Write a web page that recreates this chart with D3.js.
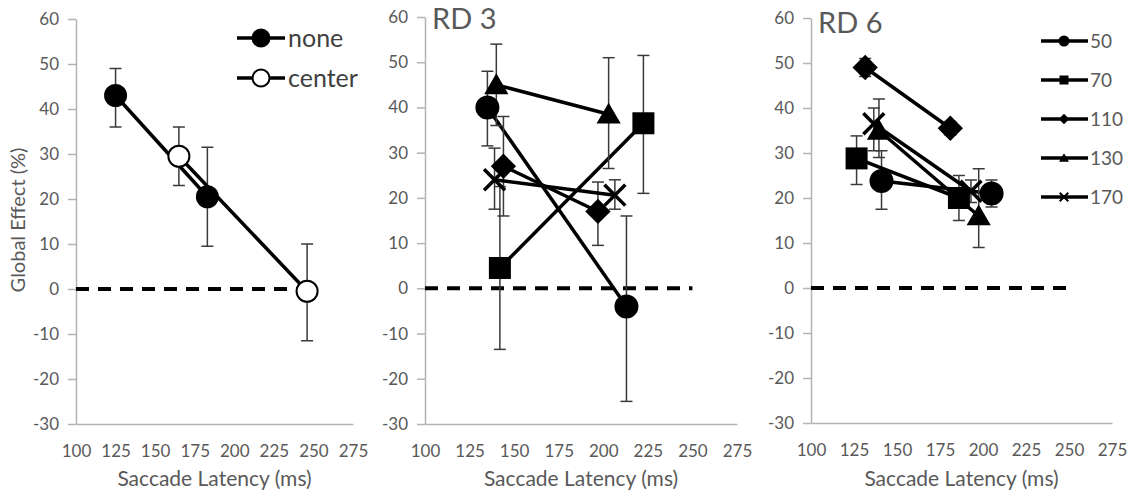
<!DOCTYPE html>
<html>
<head>
<meta charset="utf-8">
<script src="https://cdn.jsdelivr.net/npm/d3@7"></script>
<style>
  html, body { margin: 0; padding: 0; background: #fff; }
  svg { display: block; font-family: Lato, 'Open Sans', sans-serif; }
</style>
</head>
<body>
<div id="chart"></div>
<script>
// Axis ticks shared by all three panels
var latencyTicks = [100, 125, 150, 175, 200, 225, 250, 275];
var effectTicks = [-30, -20, -10, 0, 10, 20, 30, 40, 50, 60];
var zeroLineSpan = [100, 250];

// Panel 1: cue condition
var cueNames = ['none', 'center'];
var cueLatency = [[125, 183], [165, 246]];
var cueEffect = [[43, 20.5], [29.5, -0.5]];
var cueLow = [[36, 9.5], [23, -11.5]];
var cueHigh = [[49, 31.5], [36, 10]];

// Panels 2 and 3: groups 50..170
var groupNames = ['50', '70', '110', '130', '170'];

var rd3Latency = [[135, 213], [142, 222.5], [144, 197], [140, 203], [139, 206.5]];
var rd3Effect = [[40, -4], [4.5, 36.5], [27, 17], [45, 38.5], [24, 20.6]];
var rd3Low = [[31.5, -25], [-13.5, 21], [16, 9.5], [36, 26.5], [17.5, 17.5]];
var rd3High = [[48, 16], [22.5, 51.5], [38, 23.5], [54, 51], [31, 24]];

var rd6Latency = [[141, 205], [126.5, 186], [131.5, 181], [139.5, 197.5], [136.5, 193]];
var rd6Effect = [[23.8, 21], [28.8, 20], [49, 35.5], [35, 16], [36.5, 21.5]];
var rd6Low = [[17.5, 18], [23, 15], [47, 34], [29, 9], [30.5, 19]];
var rd6High = [[30.5, 24], [33.8, 25], [51, 37], [42, 26.5], [40, 24]];

var W = 1133, H = 492;
var C = { axis: '#b3b3b3', tick: '#595959', err: '#3a3a3a', ink: '#000' };
var groupShapes = ['circle', 'square', 'diamond', 'triangle', 'x'];

var svg = d3.select('#chart').append('svg')
    .attr('width', W).attr('height', H)
    .attr('viewBox', '0 0 ' + W + ' ' + H);

function marker(g, shape, cx, cy, r, fill) {
    var m = g.append('g').attr('transform', 'translate(' + cx + ',' + cy + ')');
    if (shape === 'circle') {
        m.append('circle').attr('r', r).attr('fill', fill)
            .attr('stroke', C.ink).attr('stroke-width', 2);
    } else if (shape === 'square') {
        m.append('rect').attr('x', -r).attr('y', -r)
            .attr('width', 2 * r).attr('height', 2 * r).attr('fill', fill);
    } else if (shape === 'diamond') {
        var d = r * 1.15;
        m.append('path').attr('d', 'M0,' + (-d) + 'L' + d + ',0L0,' + d + 'L' + (-d) + ',0Z')
            .attr('fill', fill);
    } else if (shape === 'triangle') {
        m.append('path')
            .attr('d', 'M0,' + (-r * 1.05) + 'L' + (r * 1.1) + ',' + (r * 0.85) +
                  'L' + (-r * 1.1) + ',' + (r * 0.85) + 'Z')
            .attr('fill', fill);
    } else {
        var k = r * 0.95;
        m.append('path').attr('d', 'M' + (-k) + ',' + (-k) + 'L' + k + ',' + k +
                              'M' + k + ',' + (-k) + 'L' + (-k) + ',' + k)
            .attr('stroke', C.ink).attr('stroke-width', Math.max(2, r * 0.32))
            .attr('fill', 'none');
    }
}

function setupPanel(box) {
    var x = d3.scaleLinear().domain([100, 275]).range([box.left, box.right]);
    var y = d3.scaleLinear().domain([-30, 60]).range([box.bottom, box.top]);
    var g = svg.append('g');

    var yg = g.append('g').attr('transform', 'translate(' + box.left + ',0)')
        .call(d3.axisLeft(y).tickValues(effectTicks).tickSize(8).tickPadding(9)
              .tickSizeOuter(0).tickFormat(function (d) { return String(d); }));
    var xg = g.append('g').attr('transform', 'translate(0,' + box.bottom + ')')
        .call(d3.axisBottom(x).tickValues(latencyTicks).tickSize(0).tickPadding(21)
              .tickSizeOuter(0));
    [yg, xg].forEach(function (ax) {
        ax.selectAll('path,line').attr('stroke', C.axis).attr('stroke-width', 1.5);
        ax.selectAll('text').attr('fill', C.tick).attr('font-size', 17)
            .attr('font-family', "Lato, 'Open Sans', sans-serif");
    });

    g.append('text')
        .attr('x', (box.left + box.right) / 2).attr('y', 486)
        .attr('text-anchor', 'middle').attr('fill', C.tick).attr('font-size', 21)
        .text('Saccade Latency (ms)');

    g.append('line')
        .attr('x1', x(zeroLineSpan[0])).attr('x2', x(zeroLineSpan[1]))
        .attr('y1', y(0)).attr('y2', y(0))
        .attr('stroke', C.ink).attr('stroke-width', 4)
        .attr('stroke-dasharray', '13,9');

    return { g: g, x: x, y: y };
}

function drawSeries(p, lat, eff, lo, hi) {
    var pts = lat.map(function (d, i) { return [d, eff[i], lo[i], hi[i]]; });
    p.g.append('path')
        .attr('d', d3.line().x(function (d) { return p.x(d[0]); })
                             .y(function (d) { return p.y(d[1]); })(pts))
        .attr('fill', 'none').attr('stroke', C.ink).attr('stroke-width', 3.5);

    var eb = p.g.append('g').attr('stroke', C.err).attr('stroke-width', 1.5);
    pts.forEach(function (d) {
        var cx = p.x(d[0]);
        eb.append('line').attr('x1', cx).attr('x2', cx)
            .attr('y1', p.y(d[2])).attr('y2', p.y(d[3]));
        [d[2], d[3]].forEach(function (v) {
            eb.append('line').attr('x1', cx - 6).attr('x2', cx + 6)
                .attr('y1', p.y(v)).attr('y2', p.y(v));
        });
    });
    return pts;
}

// Panel 1
var p1 = setupPanel({ left: 76, right: 353, top: 19, bottom: 424 });
var cueFills = ['#000', '#fff'];
var cuePts = cueNames.map(function (n, i) {
    return drawSeries(p1, cueLatency[i], cueEffect[i], cueLow[i], cueHigh[i]);
});
cuePts.forEach(function (pts, i) {
    pts.forEach(function (d) { marker(p1.g, 'circle', p1.x(d[0]), p1.y(d[1]), 10.5, cueFills[i]); });
});

svg.append('text')
    .attr('transform', 'translate(25,220) rotate(-90)')
    .attr('text-anchor', 'middle').attr('fill', C.tick).attr('font-size', 20)
    .text('Global Effect (%)');

var leg1 = svg.append('g');
cueNames.forEach(function (n, i) {
    var ly = 38 + i * 40;
    leg1.append('line').attr('x1', 237).attr('x2', 285).attr('y1', ly).attr('y2', ly)
        .attr('stroke', C.ink).attr('stroke-width', 3.5);
    marker(leg1, 'circle', 261, ly, 8.5, cueFills[i]);
    leg1.append('text').attr('x', 288).attr('y', ly).attr('dy', '0.35em')
        .attr('fill', '#404040').attr('font-size', 25).text(n);
});

// Panels 2 and 3
function groupPanel(box, title, titleY, lat, eff, lo, hi) {
    var p = setupPanel(box);
    var all = groupNames.map(function (n, i) {
        return drawSeries(p, lat[i], eff[i], lo[i], hi[i]);
    });
    all.forEach(function (pts, i) {
        pts.forEach(function (d) {
            marker(p.g, groupShapes[i], p.x(d[0]), p.y(d[1]), 11, C.ink);
        });
    });
    p.g.append('text').attr('x', box.left + 7).attr('y', titleY)
        .attr('fill', C.tick).attr('font-size', 29).text(title);
    return p;
}

groupPanel({ left: 425, right: 737, top: 17, bottom: 424 }, 'RD 3', 29,
           rd3Latency, rd3Effect, rd3Low, rd3High);
groupPanel({ left: 811, right: 1112, top: 18, bottom: 423 }, 'RD 6', 33,
           rd6Latency, rd6Effect, rd6Low, rd6High);

var leg3 = svg.append('g');
groupNames.forEach(function (n, i) {
    var ly = 41 + i * 39;
    leg3.append('line').attr('x1', 1041).attr('x2', 1088).attr('y1', ly).attr('y2', ly)
        .attr('stroke', C.ink).attr('stroke-width', 3.5);
    marker(leg3, groupShapes[i], 1064, ly, 4.5, C.ink);
    leg3.append('text').attr('x', 1090).attr('y', ly).attr('dy', '0.35em')
        .attr('fill', C.tick).attr('font-size', 19).text(n);
});
</script>
</body>
</html>
